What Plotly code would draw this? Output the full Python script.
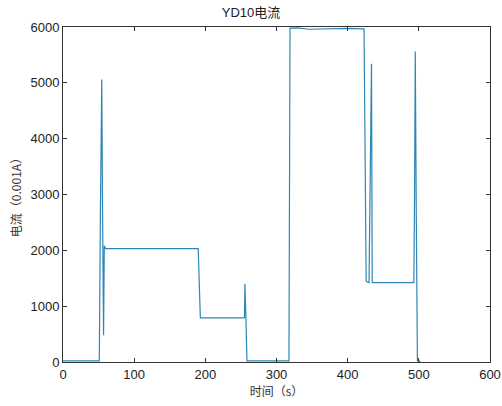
import plotly.graph_objects as go

# YD10 current trace, time in seconds, current in units of 0.001 A
time_s = [0, 10, 30, 51, 52.5, 54.5, 55.5, 57, 58, 59, 60, 100, 150, 190, 191.5, 193,
          230, 255, 255.6, 256.2, 257, 258.5, 290, 316, 317.5, 319, 330, 345, 360,
          380, 400, 423, 424.5, 426, 428, 430, 433.5, 434.5, 436, 450, 470, 493,
          494, 495, 496.5, 498, 499.5, 500.5, 502]
current_ma = [20, 20, 18, 20, 2600, 5060, 2800, 480, 2080, 2060, 2030, 2030, 2030, 2030, 1400, 790,
              790, 790, 1400, 800, 790, 20, 20, 20, 20, 5980, 5985, 5960, 5965,
              5970, 5975, 5965, 3000, 1450, 1430, 1420, 5340, 1420, 1420, 1420, 1420, 1420,
              3000, 5560, 2500, 20, 40, 10, 10]

fig = go.Figure()
fig.add_trace(go.Scatter(
    x=time_s, y=current_ma, mode="lines",
    line=dict(color="#2f86b6", width=1.2),
    showlegend=False,
))

axis_common = dict(
    showline=True, linecolor="#333333", linewidth=1, mirror="ticks",
    ticks="inside", ticklen=4, tickcolor="#333333",
    showgrid=False, zeroline=False, automargin=False,
    tickfont=dict(family="Liberation Sans, Arial", size=13, color="#222222"),
)

fig.update_layout(
    width=502, height=406,
    margin=dict(l=63, r=12, t=27, b=44),
    paper_bgcolor="white", plot_bgcolor="white",
    title=dict(text="YD10电流", x=0.5, xanchor="center", y=0.98, yanchor="top",
               font=dict(family="Liberation Sans, Noto Sans CJK SC", size=13, color="#222222")),
    xaxis=dict(range=[0, 600], tickvals=[0, 100, 200, 300, 400, 500, 600],
               title=dict(text="时间（s）", standoff=4,
                          font=dict(family="Noto Sans CJK SC", size=12, color="#333333")),
               **axis_common),
    yaxis=dict(range=[0, 6000], tickvals=[0, 1000, 2000, 3000, 4000, 5000, 6000],
               title=dict(text="电流（0.001A）", standoff=6,
                          font=dict(family="Noto Sans CJK SC", size=12, color="#333333")),
               **axis_common),
)

fig.write_html("out.html")
